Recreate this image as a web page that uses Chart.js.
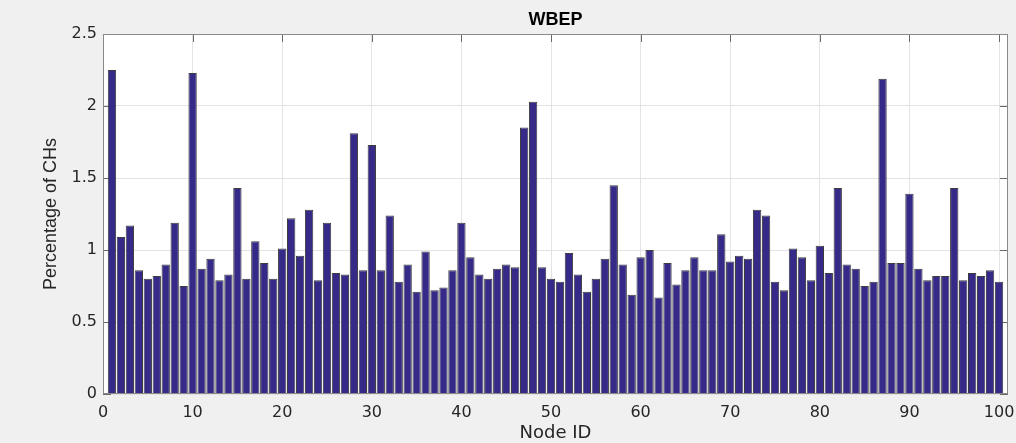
<!DOCTYPE html>
<html>
<head>
<meta charset="utf-8">
<script src="https://cdn.jsdelivr.net/npm/chart.js@4"></script>
<style>
  html, body { margin: 0; padding: 0; background: #f0f0f0; }
  #wrap { width: 1016px; height: 443px; position: relative; }
</style>
</head>
<body>
<div id="wrap"><canvas id="wbep-chart"></canvas></div>
<script>
// node ids 1..100 and the percentage of CHs
var nodeIds = [];
for (var i = 1; i <= 100; i++) nodeIds.push(i);

var chPercent = [
  2.25, 1.09, 1.17, 0.86, 0.80, 0.82, 0.90, 1.19, 0.75, 2.23,
  0.87, 0.94, 0.79, 0.83, 1.43, 0.80, 1.06, 0.91, 0.80, 1.01,
  1.22, 0.96, 1.28, 0.79, 1.19, 0.84, 0.83, 1.81, 0.86, 1.73,
  0.86, 1.24, 0.78, 0.90, 0.71, 0.99, 0.72, 0.74, 0.86, 1.19,
  0.95, 0.83, 0.80, 0.87, 0.90, 0.88, 1.85, 2.03, 0.88, 0.80,
  0.78, 0.98, 0.83, 0.71, 0.80, 0.94, 1.45, 0.90, 0.69, 0.95,
  1.00, 0.67, 0.91, 0.76, 0.86, 0.95, 0.86, 0.86, 1.11, 0.92,
  0.96, 0.94, 1.28, 1.24, 0.78, 0.72, 1.01, 0.95, 0.79, 1.03,
  0.84, 1.43, 0.90, 0.87, 0.75, 0.78, 2.19, 0.91, 0.91, 1.39,
  0.87, 0.79, 0.82, 0.82, 1.43, 0.79, 0.84, 0.82, 0.86, 0.78
];

var xTicks = [0, 10, 20, 30, 40, 50, 60, 70, 80, 90, 100];
var yTicks = [0, 0.5, 1, 1.5, 2, 2.5];

// white plot box, inside tick marks and frame like matlab axes
var axesBox = {
  id: 'axesBox',
  beforeDraw: function (chart) {
    var a = chart.chartArea, ctx = chart.ctx;
    ctx.save();
    ctx.fillStyle = '#ffffff';
    ctx.fillRect(a.left, a.top, a.right - a.left, a.bottom - a.top);
    ctx.restore();
  },
  beforeDatasetsDraw: function (chart) {
    var a = chart.chartArea, ctx = chart.ctx;
    var sx = chart.scales.x, sy = chart.scales.y;
    ctx.save();
    ctx.strokeStyle = '#6a6a6a';
    ctx.lineWidth = 1;
    ctx.beginPath();
    xTicks.forEach(function (v) {
      var px = Math.round(sx.getPixelForValue(v)) + 0.5;
      ctx.moveTo(px, a.top); ctx.lineTo(px, a.top + 8);
      ctx.moveTo(px, a.bottom); ctx.lineTo(px, a.bottom - 8);
    });
    yTicks.forEach(function (v) {
      var py = Math.round(sy.getPixelForValue(v)) + 0.5;
      ctx.moveTo(a.left, py); ctx.lineTo(a.left + 8, py);
      ctx.moveTo(a.right, py); ctx.lineTo(a.right - 8, py);
    });
    ctx.stroke();
    ctx.restore();
  },
  afterDatasetsDraw: function (chart) {
    var a = chart.chartArea, ctx = chart.ctx;
    ctx.save();
    ctx.strokeStyle = '#8a8a8a';
    ctx.lineWidth = 1;
    ctx.strokeRect(Math.round(a.left) + 0.5, Math.round(a.top) + 0.5,
      Math.round(a.right - a.left) - 1, Math.round(a.bottom - a.top) - 1);
    ctx.restore();
  }
};

new Chart(document.getElementById('wbep-chart'), {
  type: 'bar',
  data: {
    datasets: [{
      label: 'WBEP',
      data: nodeIds.map(function (n, i) { return {x: n, y: chPercent[i]}; }),
      backgroundColor: '#352a87',
      borderColor: '#3c3c3c',
      borderWidth: 1,
      barPercentage: 0.93,
      categoryPercentage: 1
    }]
  },
  options: {
    responsive: true,
    maintainAspectRatio: false,
    animation: false,
    layout: { padding: { left: 0, right: 8, top: 0, bottom: 0 } },
    plugins: {
      legend: { display: false },
      tooltip: { enabled: false },
      title: {
        display: true,
        text: 'WBEP',
        fullSize: false,
        color: '#000000',
        font: { family: 'Liberation Sans', size: 18, weight: 'bold' },
        padding: { top: 9, bottom: 3.4 }
      }
    },
    scales: {
      x: {
        type: 'linear',
        min: 0,
        max: 101,
        offset: false,
        afterBuildTicks: function (s) { s.ticks = xTicks.map(function (v) { return {value: v}; }); },
        afterFit: function (s) { s.height = 49; s.paddingLeft = 0; s.paddingRight = 0; },
        grid: { color: '#e3e3e3', drawTicks: false, offset: false },
        border: { display: false },
        ticks: {
          color: '#262626',
          padding: 9,
          maxRotation: 0,
          font: { family: 'DejaVu Sans', size: 16 },
          callback: function (v) { return String(v); }
        },
        title: {
          display: true,
          text: 'Node ID',
          color: '#262626',
          font: { family: 'DejaVu Sans', size: 18 },
          padding: { top: 0, bottom: -1 }
        }
      },
      y: {
        min: 0,
        max: 2.5,
        afterBuildTicks: function (s) { s.ticks = yTicks.map(function (v) { return {value: v}; }); },
        afterFit: function (s) { s.width = 103; s.paddingTop = 0; s.paddingBottom = 0; },
        grid: { color: '#e3e3e3', drawTicks: false },
        border: { display: false },
        ticks: {
          color: '#262626',
          padding: 6,
          font: { family: 'DejaVu Sans', size: 16 },
          callback: function (v) { return String(v); }
        },
        title: {
          display: true,
          text: 'Percentage of CHs',
          color: '#262626',
          font: { family: 'Liberation Sans', size: 18 },
          padding: { top: 40, bottom: 0 }
        }
      }
    }
  },
  plugins: [axesBox]
});
</script>
</body>
</html>
